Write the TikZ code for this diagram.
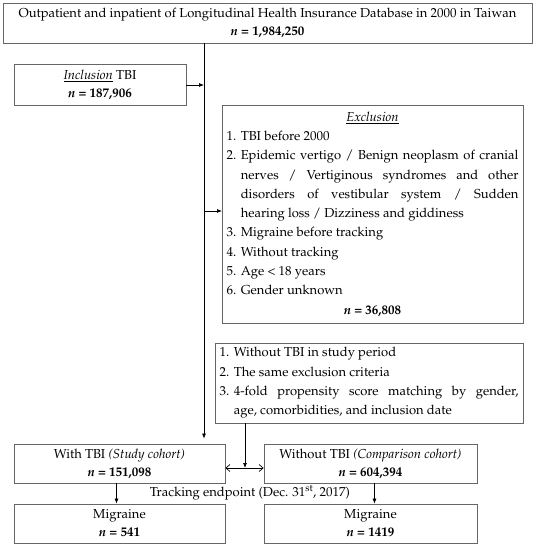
\documentclass[tikz,border=0pt]{standalone}
\usepackage[T1]{fontenc}
\usepackage{mathpazo}
\usetikzlibrary{arrows.meta, positioning, calc}
\tikzstyle{line} = [draw, -{Latex[length=5pt,width=4pt]}]
\newcommand{\critem}[2]{\hangindent=1.1em\hangafter=1\makebox[1.1em][l]{#1}#2\par}

\begin{document}
\begin{tikzpicture}[x=1pt, y=-1pt, line width=0.7pt, font=\fontsize{13}{18}\selectfont]
  % Define styles
  \tikzstyle{box} = [rectangle, draw=black!60, line width=0.8pt, inner sep=3pt, align=center]
  \tikzstyle{listbox} = [box, inner sep=0pt, align=justify, font=\fontsize{13}{19.3}\selectfont]

  \useasboundingbox (0,0) rectangle (536,550);

  % Place nodes
  \node [box, minimum width=529pt, minimum height=40pt] (database) at (267.5,23)
    {Outpatient and inpatient of Longitudinal Health Insurance Database in 2000 in Taiwan\\
     \textbf{\textit{n} = 1,984,250}};
  \node [box, minimum width=172pt, minimum height=41pt] (inclusion) at (100,85)
    {\underline{\textit{Inclusion}} TBI\\ \textbf{\textit{n} = 187,906}};
  \node [listbox, text width=292pt, minimum width=301pt, minimum height=218pt] (exclusion) at (372.5,214)
    {\parindent=0pt
     \makebox[\hsize]{\underline{\textit{Exclusion}}}\par
     \critem{1.}{TBI before 2000}
     \critem{2.}{Epidemic vertigo / Benign neoplasm of cranial\linebreak
       nerves / Vertiginous syndromes and other\linebreak
       disorders of vestibular system / Sudden\linebreak
       hearing loss / Dizziness and giddiness}
     \critem{3.}{Migraine before tracking}
     \critem{4.}{Without tracking}
     \critem{5.}{Age < 18 years}
     \critem{6.}{Gender unknown}
     \makebox[\hsize]{\textbf{\textit{n} = 36,808}}\par};
  \node [listbox, text width=299pt, minimum width=308pt, minimum height=80pt] (matching) at (369,383)
    {\parindent=0pt
     \critem{1.}{Without TBI in study period}
     \critem{2.}{The same exclusion criteria}
     \critem{3.}{4-fold propensity score matching by gender,\linebreak
       age, comorbidities, and inclusion date}};
  \node [box, minimum width=211pt, minimum height=39pt] (study) at (119.5,463.5)
    {With TBI \textit{(Study cohort)}\\ \textbf{\textit{n} = 151,098}};
  \node [box, minimum width=213pt, minimum height=39pt] (comparison) at (370.5,463.5)
    {Without TBI \textit{(Comparison cohort)}\\ \textbf{\textit{n} = 604,394}};
  \node (tracking) at (250,493) {Tracking endpoint (Dec. 31\textsuperscript{st}, 2017)};
  \node [box, minimum width=211pt, minimum height=39pt] (migstudy) at (119.5,523.5)
    {Migraine\\ \textbf{\textit{n} = 541}};
  \node [box, minimum width=213pt, minimum height=39pt] (migcomp) at (370.5,523.5)
    {Migraine\\ \textbf{\textit{n} = 1419}};

  \coordinate (spine) at (204,43);
  \coordinate (join) at (245,468);

  % Draw edges
  \path [line, shorten >=5pt] (spine) -- (spine |- study.north);
  \path [line] (inclusion.east) -- (inclusion.east -| spine);
  \path [line] (exclusion.west -| spine) ++(0,-3) -- ++(18,0);
  \path [line] (matching.south -| join) -- (join);
  \draw [{Straight Barb[length=4pt,width=7pt]}-{Straight Barb[length=4pt,width=7pt]}] (study.east |- join) -- (comparison.west |- join);
  \path [line] ([xshift=-3pt]study.south) -- ([xshift=-3pt]migstudy.north);
  \path [line] ([xshift=4pt]comparison.south) -- ([xshift=4pt]migcomp.north);

\end{tikzpicture}
\end{document}
